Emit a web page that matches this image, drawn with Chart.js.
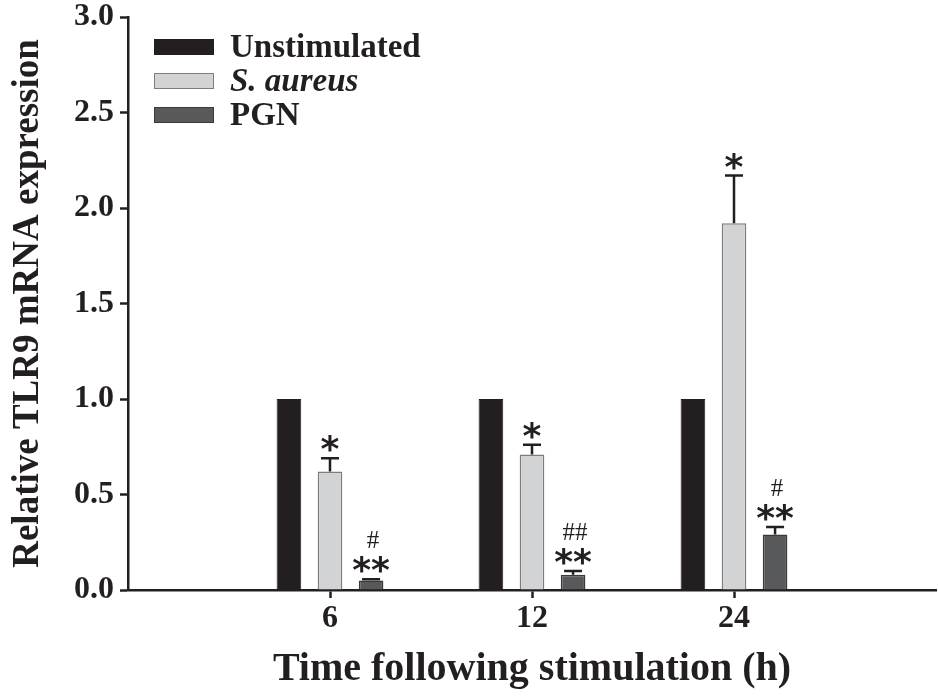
<!DOCTYPE html>
<html>
<head>
<meta charset="utf-8">
<script src="https://cdn.jsdelivr.net/npm/chart.js@4.4.1/dist/chart.umd.min.js"></script>
<style>
  body { margin: 0; background: #fff; }
  #wrap { width: 938px; height: 698px; }
</style>
</head>
<body>
<div id="wrap"><canvas id="chart" width="938" height="698"></canvas></div>
<script>
// =========================
// DATA
// =========================
const timePoints = ["6", "12", "24"];
const yTicks = [0, 0.5, 1.0, 1.5, 2.0, 2.5, 3.0];

const unstimulated = [1.0, 1.0, 1.0];
const sAureus = [0.62, 0.71, 1.92];
const sAureusErr = [0.07, 0.05, 0.25];
const pgn = [0.05, 0.08, 0.29];
const pgnErr = [0.006, 0.02, 0.04];

const sAureusStars = ["*", "*", "*"];
const pgnStars = ["**", "**", "**"];
const pgnHashes = ["#", "##", "#"];

// empty slots either side so the groups sit like the original axis
const labels = [""].concat(timePoints, [""]);
const pad = arr => [null].concat(arr, [null]);

const INK = "#231f20";
const SERIF = "'Liberation Serif', 'Times New Roman', serif";

// =========================
// ERROR BARS + MARKS
// =========================
const extrasPlugin = {
  id: "extras",
  afterDatasetsDraw(chart) {
    const ctx = chart.ctx;
    const y = chart.scales.y;
    ctx.save();
    chart.data.datasets.forEach((ds, di) => {
      const meta = chart.getDatasetMeta(di);
      meta.data.forEach((bar, i) => {
        const v = ds.data[i];
        if (v === null || v === undefined) return;
        const err = ds.err ? ds.err[i] : 0;
        const top = y.getPixelForValue(v + (err || 0));
        if (err) {
          ctx.strokeStyle = INK;
          ctx.lineWidth = 2.5;
          ctx.beginPath();
          ctx.moveTo(bar.x, bar.y);
          ctx.lineTo(bar.x, top);
          ctx.moveTo(bar.x - 9, top);
          ctx.lineTo(bar.x + 9, top);
          ctx.stroke();
        }
        if (ds.stars && ds.stars[i]) {
          ctx.fillStyle = INK;
          ctx.font = "bold 36px 'DejaVu Sans', sans-serif";
          ctx.textAlign = "center";
          ctx.textBaseline = "alphabetic";
          ctx.fillText(ds.stars[i], bar.x, top + 3);
        }
        if (ds.hashes && ds.hashes[i]) {
          ctx.fillStyle = INK;
          ctx.font = "25px " + SERIF;
          ctx.textAlign = "center";
          ctx.textBaseline = "alphabetic";
          ctx.fillText(ds.hashes[i], bar.x + 2, top - 31);
        }
      });
    });
    ctx.restore();
  }
};

// =========================
// LEGEND (top left, inside plot)
// =========================
const legendPlugin = {
  id: "boxLegend",
  afterDraw(chart) {
    const ctx = chart.ctx;
    const a = chart.chartArea;
    ctx.save();
    chart.data.datasets.forEach((ds, i) => {
      const bx = a.left + 26;
      const by = a.top + 22 + i * 34;
      ctx.fillStyle = ds.backgroundColor;
      ctx.fillRect(bx, by, 60, 16);
      ctx.strokeStyle = ds.borderColor;
      ctx.lineWidth = 1;
      ctx.strokeRect(bx + 0.5, by + 0.5, 59, 15);
      ctx.fillStyle = INK;
      ctx.font = (ds.italic ? "italic " : "") + "bold 33px " + SERIF;
      ctx.textAlign = "left";
      ctx.textBaseline = "middle";
      ctx.fillText(ds.label, bx + 76, by + 9);
    });
    ctx.restore();
  }
};

// =========================
// CHART
// =========================
const tickGrid = {
  offset: false,
  drawOnChartArea: false,
  drawTicks: true,
  tickLength: 8,
  tickWidth: 2.5,
  tickColor: INK
};

new Chart(document.getElementById("chart"), {
  type: "bar",
  data: {
    labels: labels,
    datasets: [
      {
        label: "Unstimulated",
        data: pad(unstimulated),
        backgroundColor: "#231f20",
        borderColor: "#231f20",
        borderWidth: 1
      },
      {
        label: "S. aureus",
        italic: true,
        data: pad(sAureus),
        err: pad(sAureusErr),
        stars: pad(sAureusStars),
        backgroundColor: "#d1d3d4",
        borderColor: "#7d7d7d",
        borderWidth: 1.5
      },
      {
        label: "PGN",
        data: pad(pgn),
        err: pad(pgnErr),
        stars: pad(pgnStars),
        hashes: pad(pgnHashes),
        backgroundColor: "#58595b",
        borderColor: "#3a3a3a",
        borderWidth: 1.5
      }
    ]
  },
  options: {
    responsive: false,
    animation: false,
    categoryPercentage: 0.61,
    barPercentage: 0.6,
    layout: { padding: { top: 17, right: 0, left: 2, bottom: 0 } },
    plugins: {
      legend: { display: false },
      tooltip: { enabled: false }
    },
    scales: {
      x: {
        offset: false,
        grid: {
          ...tickGrid,
          tickColor: c => (c.index === 0 || c.index === labels.length - 1) ? "rgba(0,0,0,0)" : INK
        },
        border: { color: INK, width: 2.5 },
        ticks: {
          autoSkip: false,
          maxRotation: 0,
          padding: 2,
          color: INK,
          font: { family: SERIF, size: 32, weight: "bold" }
        },
        title: {
          display: true,
          text: "Time following stimulation (h)",
          color: INK,
          font: { family: SERIF, size: 40, weight: "bold" },
          padding: { top: 20 }
        },
        afterFit: s => { s.height = 108; }
      },
      y: {
        min: 0,
        max: 3,
        afterBuildTicks: s => { s.ticks = yTicks.map(v => ({ value: v })); },
        grid: tickGrid,
        border: { color: INK, width: 2.5 },
        ticks: {
          padding: 6,
          color: INK,
          font: { family: SERIF, size: 32, weight: "bold" },
          callback: v => Number(v).toFixed(1)
        },
        title: {
          display: true,
          text: "Relative TLR9 mRNA expression",
          color: INK,
          font: { family: SERIF, size: 37, weight: "bold" },
          padding: { bottom: 2 }
        },
        afterFit: s => { s.width = 126; s.paddingTop = 0; s.paddingBottom = 0; }
      }
    }
  },
  plugins: [extrasPlugin, legendPlugin]
});
</script>
</body>
</html>
